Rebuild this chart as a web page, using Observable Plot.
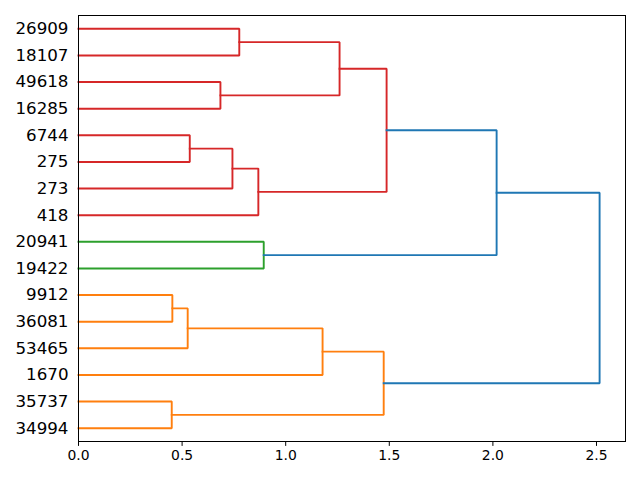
<!DOCTYPE html>
<html>
<head>
<meta charset="utf-8">
<script src="https://cdn.jsdelivr.net/npm/d3@7"></script>
<script src="https://cdn.jsdelivr.net/npm/@observablehq/plot@0.6"></script>
<style>
  html, body { margin: 0; padding: 0; background: #fff; }
  svg { display: block; }
</style>
</head>
<body>
<div id="chart"></div>
<script>
// Leaves, top to bottom
const leaves = ["26909","18107","49618","16285","6744","275","273","418","20941","19422","9912","36081","53465","1670","35737","34994"];
// Merges: left child, right child, height (distance), color
const mergeLeft   = ["26909","49618","m0","6744","m3","m4","m2","20941","m6","9912","m9","m10","35737","m11","m8"];
const mergeRight  = ["18107","16285","m1","275","273","418","m5","19422","m7","36081","53465","1670","34994","m12","m13"];
const mergeHeight = [0.776, 0.685, 1.260, 0.537, 0.743, 0.868, 1.487, 0.894, 2.018, 0.453, 0.527, 1.178, 0.450, 1.473, 2.515];
const mergeColor  = ["#d62728","#d62728","#d62728","#d62728","#d62728","#d62728","#d62728","#2ca02c","#1f77b4","#ff7f0e","#ff7f0e","#ff7f0e","#ff7f0e","#ff7f0e","#1f77b4"];
const xTicks = [0, 0.5, 1.0, 1.5, 2.0, 2.5];

// Node positions (scipy convention: leaf i from bottom at 5 + 10 i)
const n = leaves.length;
const pos = new Map();
leaves.forEach((l, i) => pos.set(l, {x: 0, y: 5 + 10 * (n - 1 - i)}));
const rows = [];
mergeLeft.forEach((a, k) => {
  const A = pos.get(a), B = pos.get(mergeRight[k]), h = mergeHeight[k];
  rows.push({x: A.x, y: A.y, id: k, c: mergeColor[k]});
  rows.push({x: h, y: A.y, id: k, c: mergeColor[k]});
  rows.push({x: h, y: B.y, id: k, c: mergeColor[k]});
  rows.push({x: B.x, y: B.y, id: k, c: mergeColor[k]});
  pos.set("m" + k, {x: h, y: (A.y + B.y) / 2});
});
const leafY = leaves.map(l => pos.get(l).y);
const labelOf = new Map(leaves.map(l => [pos.get(l).y, l]));

const chart = Plot.plot({
  width: 640,
  height: 480,
  marginLeft: 78,
  marginRight: 15,
  marginTop: 15,
  marginBottom: 39,
  style: {fontFamily: "DejaVu Sans", color: "black", background: "white"},
  x: {domain: [0, 2.64], label: null},
  y: {domain: [0, 160], label: null},
  color: {type: "identity"},
  marks: [
    Plot.line(rows, {x: "x", y: "y", z: "id", stroke: "c", strokeWidth: 1.9, strokeLinejoin: "miter", strokeLinecap: "square"}),
    Plot.frame({stroke: "black", strokeWidth: 1}),
    Plot.axisX(xTicks, {tickSize: 4.9, tickPadding: 3.5, tickFormat: d => d.toFixed(1), fontSize: 13.9, label: null, stroke: "black", fill: "black"}),
    Plot.axisY(leafY, {tickSize: 0, tickPadding: 10, tickFormat: d => labelOf.get(d), fontSize: 16.7, label: null, fill: "black"})
  ]
});
document.getElementById("chart").appendChild(chart);
</script>
</body>
</html>
